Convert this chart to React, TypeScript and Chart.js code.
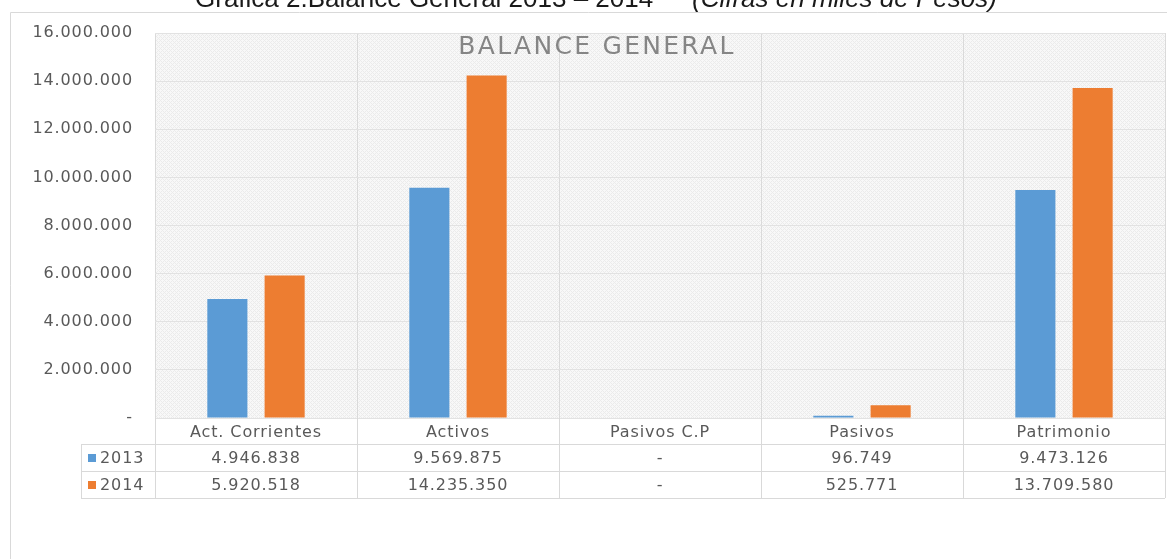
import React, { useEffect, useRef } from "react";
import { Chart, registerables } from "chart.js";

Chart.register(...registerables);

const categories = ["Act. Corrientes", "Activos", "Pasivos C.P", "Pasivos", "Patrimonio"];
const seriesNames = ["2013", "2014"];
const values2013 = [4946838, 9569875, 0, 96749, 9473126];
const values2014 = [5920518, 14235350, 0, 525771, 13709580];
const seriesColors = ["#5B9BD5", "#ED7D31"];
const yMin = 0;
const yMax = 16000000;
const yStep = 2000000;
const pageTitleMain = "Gráfica 2.Balance General 2013 – 2014";
const pageTitleNote = "(Cifras en miles de Pesos)";
const chartTitle = "BALANCE GENERAL";

const FONT = '"DejaVu Sans", sans-serif';
const TEXT = "#595959";
const SPACING = "0.9px";

const fmt = (v: number) =>
  v === 0 ? "-" : String(Math.round(v)).replace(/\B(?=(\d{3})+(?!\d))/g, ".");

function makePattern(ctx: CanvasRenderingContext2D) {
  const c = document.createElement("canvas");
  c.width = 4;
  c.height = 4;
  const p = c.getContext("2d")!;
  for (let x = 0; x < 4; x++) {
    for (let y = 0; y < 4; y++) {
      const on = (x + y) % 4 === 0 || (((x - y) % 4) + 4) % 4 === 0;
      p.fillStyle = on ? "#ebebeb" : "#f8f8f8";
      p.fillRect(x, y, 1, 1);
    }
  }
  return ctx.createPattern(c, "repeat");
}

const decorPlugin = {
  id: "decor",
  beforeDraw(chart: any) {
    const ctx: CanvasRenderingContext2D = chart.ctx;
    const a = chart.chartArea;
    ctx.save();
    // page title (clipped at top)
    ctx.fillStyle = "#1a1a1a";
    ctx.textBaseline = "alphabetic";
    ctx.textAlign = "left";
    ctx.font = '26px "Liberation Sans", Arial, sans-serif';
    ctx.fillText(pageTitleMain, 195, 7);
    ctx.font = 'italic 26px "Liberation Sans", Arial, sans-serif';
    ctx.fillText(pageTitleNote, 692, 7);
    // outer frame
    ctx.strokeStyle = "#d9d9d9";
    ctx.lineWidth = 1;
    ctx.beginPath();
    ctx.moveTo(10.5, chart.height);
    ctx.lineTo(10.5, 12.5);
    ctx.lineTo(chart.width, 12.5);
    ctx.stroke();
    // plot background pattern
    const pat = makePattern(ctx);
    if (pat) {
      ctx.fillStyle = pat;
      ctx.fillRect(a.left, a.top, a.right - a.left, a.bottom - a.top);
    }
    ctx.restore();
    ctx.letterSpacing = SPACING;
  },
  afterDraw(chart: any) {
    const ctx: CanvasRenderingContext2D = chart.ctx;
    const a = chart.chartArea;
    const xs = chart.scales.x;
    const n = categories.length;
    const w = (a.right - a.left) / n;
    ctx.save();
    // inner title
    ctx.letterSpacing = "2.3px";
    ctx.font = "25px " + FONT;
    ctx.fillStyle = "#858585";
    ctx.textAlign = "center";
    ctx.textBaseline = "middle";
    ctx.fillText(chartTitle, 597, a.top + 14);

    // data table
    const tableLeft = 81;
    const headerLine = a.bottom + 26;
    const rowH = 27;
    const bottomLine = headerLine + rowH * 2;
    ctx.strokeStyle = "#d9d9d9";
    ctx.lineWidth = 1;
    ctx.beginPath();
    for (let r = 0; r <= 2; r++) {
      const y = Math.round(headerLine + r * rowH) + 0.5;
      ctx.moveTo(tableLeft, y);
      ctx.lineTo(a.right, y);
    }
    ctx.moveTo(tableLeft + 0.5, headerLine);
    ctx.lineTo(tableLeft + 0.5, bottomLine);
    for (let i = 0; i <= n; i++) {
      const bx = Math.round(a.left + i * w) + 0.5;
      ctx.moveTo(bx, a.bottom);
      ctx.lineTo(bx, bottomLine);
    }
    ctx.stroke();

    ctx.letterSpacing = SPACING;
    ctx.font = "16px " + FONT;
    ctx.textBaseline = "middle";
    const rows = [values2013, values2014];
    rows.forEach((vals, r) => {
      const cy = headerLine + rowH * r + rowH / 2;
      ctx.fillStyle = seriesColors[r];
      ctx.fillRect(88, Math.round(cy) - 4, 8, 8);
      ctx.fillStyle = TEXT;
      ctx.textAlign = "left";
      ctx.fillText(seriesNames[r], 100, cy + 1);
      ctx.textAlign = "center";
      vals.forEach((v, i) => {
        ctx.fillText(fmt(v), xs.getPixelForValue(i), cy + 1);
      });
    });
    ctx.restore();
  },
};

export default function App() {
  const ref = useRef<HTMLCanvasElement | null>(null);
  useEffect(() => {
    if (!ref.current) return;
    const chart = new Chart(ref.current, {
      type: "bar",
      data: {
        labels: categories,
        datasets: [
          {
            label: seriesNames[0],
            data: values2013,
            backgroundColor: seriesColors[0],
            categoryPercentage: 0.567,
            barPercentage: 0.7,
          },
          {
            label: seriesNames[1],
            data: values2014,
            backgroundColor: seriesColors[1],
            categoryPercentage: 0.567,
            barPercentage: 0.7,
          },
        ],
      },
      options: {
        responsive: true,
        maintainAspectRatio: false,
        animation: false,
        layout: { padding: { left: 10, top: 33, right: 2, bottom: 0 } },
        plugins: {
          legend: { display: false },
          title: { display: false },
          tooltip: { enabled: false },
        },
        scales: {
          x: {
            grid: { offset: true, color: "#dadada", drawTicks: false },
            border: { display: false },
            ticks: {
              font: { family: FONT, size: 16 },
              color: TEXT,
              padding: 5,
              maxRotation: 0,
              autoSkip: false,
            },
            afterFit: (s: any) => {
              s.height = 141;
            },
          },
          y: {
            min: yMin,
            max: yMax,
            ticks: {
              stepSize: yStep,
              font: { family: FONT, size: 16 },
              color: TEXT,
              padding: 22,
              callback: (v: any) => fmt(Number(v)),
            },
            grid: { color: "#e2e2e2", drawTicks: false },
            border: { display: false },
            afterFit: (s: any) => {
              s.width = 145;
            },
          },
        },
      } as any,
      plugins: [decorPlugin],
    });
    return () => chart.destroy();
  }, []);
  return (
    <div
      style={{
        position: "fixed",
        left: 0,
        top: 0,
        width: 1167,
        height: 559,
        background: "#ffffff",
      }}
    >
      <canvas ref={ref} />
    </div>
  );
}
